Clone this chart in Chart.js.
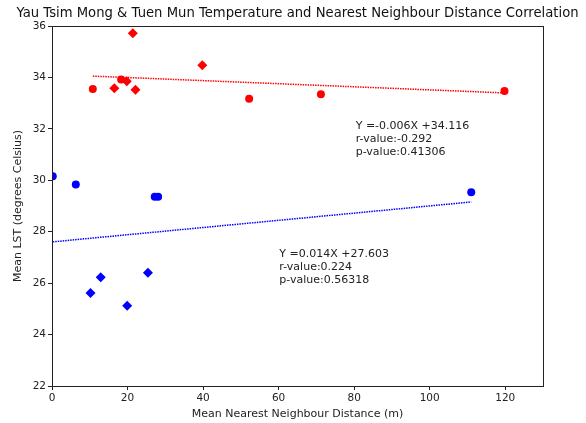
<!DOCTYPE html>
<html>
<head>
<meta charset="utf-8">
<script src="https://cdn.jsdelivr.net/npm/chart.js@4"></script>
<style>
  html, body { margin: 0; padding: 0; background: #fff; }
  #wrap { width: 586px; height: 423px; }
</style>
</head>
<body>
<div id="wrap"><canvas id="chart" width="586" height="423"></canvas></div>
<script>
// data
const redCircleX = [10.8, 18.3, 52.2, 71.2, 119.8];
const redCircleY = [33.55, 33.92, 33.17, 33.35, 33.47];
const redDiamondX = [16.5, 19.8, 21.4, 22.1, 39.8];
const redDiamondY = [33.58, 33.85, 35.72, 33.52, 34.47];

const blueCircleX = [0.2, 6.3, 27.2, 28.1, 111.0];
const blueCircleY = [30.16, 29.84, 29.36, 29.36, 29.53];
const blueDiamondX = [10.2, 12.9, 19.9, 25.4];
const blueDiamondY = [25.62, 26.23, 25.12, 26.4];

// regression results printed on the chart
const redFit = { slope: -0.006, intercept: 34.116, r: -0.292, p: 0.41306, labelX: 80.4, labelY: 31 };
const blueFit = { slope: 0.014, intercept: 27.603, r: 0.224, p: 0.56318, labelX: 60.2, labelY: 26 };

const xTicks = [0, 20, 40, 60, 80, 100, 120];
const yTicks = [22, 24, 26, 28, 30, 32, 34, 36];

const TITLE = "Yau Tsim Mong & Tuen Mun Temperature and Nearest Neighbour Distance Correlation";
const FONT = "'DejaVu Sans', sans-serif";
const RED = "#ff0000";
const BLUE = "#0000ff";

function toPoints(xs, ys) {
  return xs.map((x, i) => ({ x: x, y: ys[i] }));
}

function fitLine(fit, xs) {
  const lo = Math.min(...xs);
  const hi = Math.max(...xs);
  return [
    { x: lo, y: fit.slope * lo + fit.intercept },
    { x: hi, y: fit.slope * hi + fit.intercept }
  ];
}

function fitText(fit) {
  const sign = fit.slope < 0 ? "-" : "";
  return [
    "Y =" + sign + Math.abs(fit.slope).toFixed(3) + "X +" + fit.intercept.toFixed(3),
    "r-value:" + fit.r.toFixed(3),
    "p-value:" + fit.p
  ];
}

// box around the plot, title over the axes, regression text
const framePlugin = {
  id: "frame",
  afterDraw(chart) {
    const { ctx, chartArea, scales } = chart;
    ctx.save();
    ctx.strokeStyle = "#222";
    ctx.lineWidth = 1;
    ctx.strokeRect(chartArea.left + 0.5, chartArea.top + 0.5,
      chartArea.right - chartArea.left, chartArea.bottom - chartArea.top);

    ctx.fillStyle = "#111";
    ctx.font = "13.2px " + FONT;
    ctx.textAlign = "center";
    ctx.textBaseline = "middle";
    ctx.fillText(TITLE, (chartArea.left + chartArea.right) / 2, 14);

    ctx.fillStyle = "#222";
    ctx.font = "11px " + FONT;
    ctx.textAlign = "left";
    ctx.textBaseline = "alphabetic";
    [redFit, blueFit].forEach(fit => {
      const lines = fitText(fit);
      const px = scales.x.getPixelForValue(fit.labelX);
      const py = scales.y.getPixelForValue(fit.labelY);
      lines.forEach((t, i) => {
        ctx.fillText(t, px, py - (lines.length - 1 - i) * 13);
      });
    });
    ctx.restore();
  }
};

const allRedX = redCircleX.concat(redDiamondX);
const allBlueX = blueCircleX.concat(blueDiamondX);

new Chart(document.getElementById("chart"), {
  type: "scatter",
  data: {
    datasets: [
      {
        type: "line",
        data: fitLine(redFit, allRedX),
        borderColor: RED,
        borderWidth: 1.5,
        borderDash: [1.5, 1],
        pointRadius: 0,
        fill: false
      },
      {
        type: "line",
        data: fitLine(blueFit, allBlueX),
        borderColor: BLUE,
        borderWidth: 1.5,
        borderDash: [1.5, 1],
        pointRadius: 0,
        fill: false
      },
      {
        data: toPoints(redCircleX, redCircleY),
        pointStyle: "circle",
        pointRadius: 4,
        backgroundColor: RED,
        borderColor: RED,
        borderWidth: 0
      },
      {
        data: toPoints(redDiamondX, redDiamondY),
        pointStyle: "rectRot",
        pointRadius: 5,
        backgroundColor: RED,
        borderColor: RED,
        borderWidth: 0
      },
      {
        data: toPoints(blueCircleX, blueCircleY),
        pointStyle: "circle",
        pointRadius: 4,
        backgroundColor: BLUE,
        borderColor: BLUE,
        borderWidth: 0
      },
      {
        data: toPoints(blueDiamondX, blueDiamondY),
        pointStyle: "rectRot",
        pointRadius: 5,
        backgroundColor: BLUE,
        borderColor: BLUE,
        borderWidth: 0
      }
    ]
  },
  options: {
    responsive: false,
    animation: false,
    layout: { padding: { top: 26, right: 43, bottom: 0, left: 0 } },
    plugins: {
      legend: { display: false },
      tooltip: { enabled: false },
      title: { display: false }
    },
    scales: {
      x: {
        type: "linear",
        min: 0,
        max: 130,
        afterBuildTicks: axis => { axis.ticks = xTicks.map(v => ({ value: v })); },
        afterFit: axis => { axis.height = 37; },
        grid: { drawOnChartArea: false, drawTicks: true, tickLength: 4, color: "#222" },
        border: { color: "#222" },
        ticks: { color: "#222", font: { family: FONT, size: 10.5 }, padding: 2 },
        title: {
          display: true,
          text: "Mean Nearest Neighbour Distance (m)",
          color: "#222",
          font: { family: FONT, size: 11 },
          padding: { top: 0, bottom: 2 }
        }
      },
      y: {
        type: "linear",
        min: 22,
        max: 36,
        afterBuildTicks: axis => { axis.ticks = yTicks.map(v => ({ value: v })); },
        afterFit: axis => { axis.width = 52; },
        grid: { drawOnChartArea: false, drawTicks: true, tickLength: 4, color: "#222" },
        border: { color: "#222" },
        ticks: { color: "#222", font: { family: FONT, size: 10.5 }, padding: 2 },
        title: {
          display: true,
          text: "Mean LST (degrees Celsius)",
          color: "#222",
          font: { family: FONT, size: 11 },
          padding: { top: 12, bottom: 0 }
        }
      }
    }
  },
  plugins: [framePlugin]
});
</script>
</body>
</html>
